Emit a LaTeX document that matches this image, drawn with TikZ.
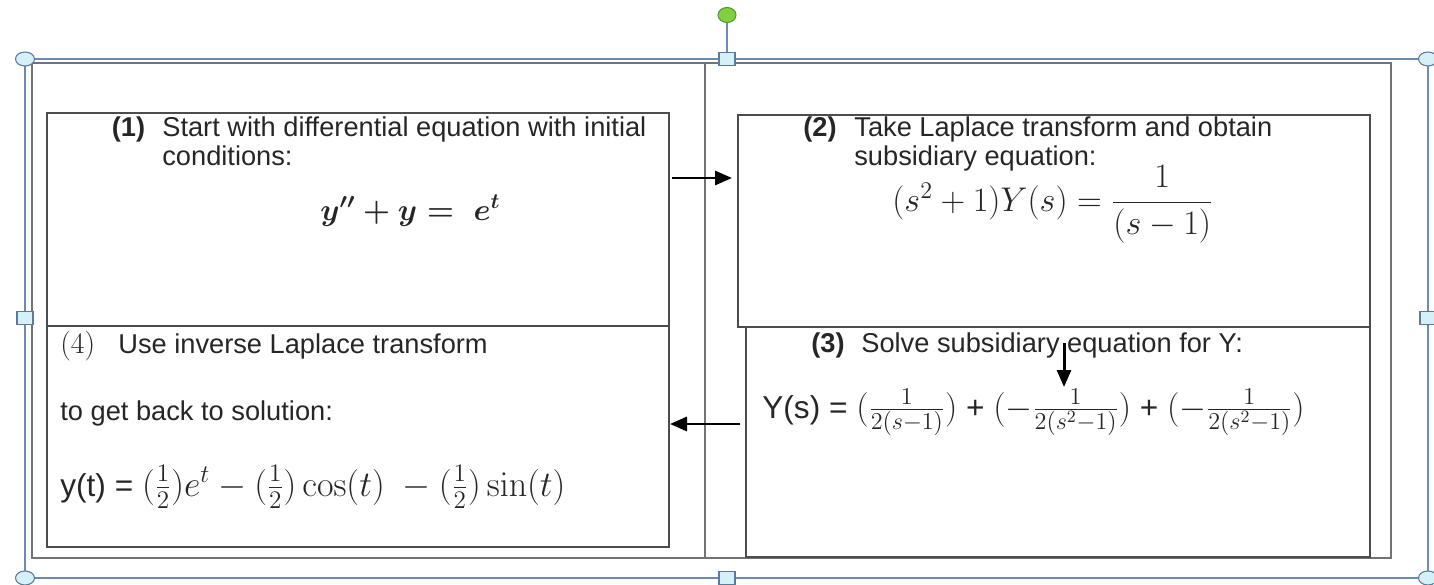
\RequirePackage{fix-cm}
\documentclass[tikz,border=0pt]{standalone}
\usepackage[no-math]{fontspec}
\setmainfont{Liberation Sans}
\usetikzlibrary{arrows.meta,shapes.geometric}
\definecolor{selblue}{RGB}{107,140,178}
\definecolor{handlefill}{RGB}{214,240,247}
\definecolor{handleedge}{RGB}{92,122,156}
\definecolor{rotgreen}{RGB}{128,208,64}
\definecolor{rotedge}{RGB}{86,150,52}
\newcommand{\bigmath}[2]{{\fontsize{#1}{24}\selectfont$#2$}}
\tikzset{
  selline/.style={draw=selblue, line width=1.1pt},
  frameline/.style={draw=black!55, line width=1.1pt},
  stepbox/.style={draw=black!70, line width=1.1pt, inner sep=0pt, outer sep=0pt},
  cornerhandle/.style={ellipse, draw=handleedge, fill=handlefill, line width=0.6pt, minimum width=0.38cm, minimum height=0.28cm, inner sep=0pt},
  sidehandle/.style={rectangle, draw=handleedge, fill=handlefill, line width=0.6pt, minimum width=0.32cm, minimum height=0.25cm, inner sep=0pt},
  rothandle/.style={ellipse, draw=rotedge, fill=rotgreen, line width=0.6pt, minimum width=0.36cm, minimum height=0.30cm, inner sep=0pt},
  steptext/.style={anchor=base west, inner sep=0pt, text=black!85, font=\fontsize{15.5}{18}\selectfont},
  stepnum/.style={steptext, font=\fontsize{15.5}{18}\selectfont\bfseries},
  eqtext/.style={anchor=base west, inner sep=0pt, text=black!85, font=\fontsize{18}{22}\selectfont},
  eqbold/.style={eqtext, font=\fontsize{17.5}{22}\selectfont\mathversion{bold}},
  flow/.style={-{Triangle[length=0.34cm,width=0.28cm]}, line width=1.7pt, draw=black},
}

\begin{document}
\begin{tikzpicture}
\useasboundingbox (0,0) rectangle (28.68,11.68);
\draw[frameline] (0.64,0.52) rectangle (27.82,10.42);
\draw[frameline, line width=0.8pt] (14.10,0.52) -- (14.10,10.42);
\node[stepbox, minimum width=12.44cm, minimum height=4.26cm] (box1) at (7.16,7.29) {};
\node[stepbox, minimum width=12.64cm, minimum height=4.24cm] (box2) at (21.08,7.26) {};
\node[stepbox, minimum width=12.48cm, minimum height=4.60cm] (box3) at (21.16,2.84) {};
\node[stepbox, minimum width=12.44cm, minimum height=4.42cm] (box4) at (7.16,2.95) {};
\node[stepnum] (n1) at (2.23,8.94) {(1)};
\node[steptext] (t1a) at (3.24,8.94) {Start with differential equation with initial};
\node[steptext] (t1b) at (3.24,8.38) {conditions:};
\node[eqbold] (eq1) at (6.40,7.28) {$y^{\prime\prime}+y=\;e^{t}$};
\node[stepnum] (n2) at (16.06,8.94) {(2)};
\node[steptext] (t2a) at (17.08,8.94) {Take Laplace transform and obtain};
\node[steptext] (t2b) at (17.08,8.38) {subsidiary equation:};
\node[eqtext] (eq2) at (17.84,7.46) {\bigmath{19.5}{(s^2+1)Y(s)=\displaystyle\frac{1}{(s-1)}}};
\node[stepnum] (n3) at (16.22,4.64) {(3)};
\node[steptext] (t3a) at (17.22,4.64) {Solve subsidiary equation for Y:};
\node[eqtext] (eq3) at (15.24,3.32) {Y(s) = \bigmath{19.7}{(\frac{1}{2(s-1)})} + \bigmath{19.7}{(-\frac{1}{2(s^2-1)})} + \bigmath{19.7}{(-\frac{1}{2(s^2-1)})}};
\node[steptext, font=\fontsize{17}{20}\selectfont] (n4) at (1.20,4.62) {$(4)$};
\node[steptext] (t4a) at (2.36,4.62) {Use inverse Laplace transform};
\node[steptext] (t4b) at (1.20,3.28) {to get back to solution:};
\node[eqtext] (eq4) at (1.20,1.76) {y(t) = \bigmath{20.5}{(\frac{1}{2})e^{t}-(\frac{1}{2})\cos(t)\;-(\frac{1}{2})\sin(t)}};
\coordinate (r1) at (13.44,8.12);
\coordinate (r2) at (14.64,8.12);
\coordinate (l1) at (14.80,3.20);
\coordinate (l2) at (13.40,3.20);
\coordinate (d1) at (21.28,4.82);
\coordinate (d2) at (21.28,3.94);
\draw[flow] (r1) -- (r2);
\draw[flow] (l1) -- (l2);
\draw[flow] (d1) -- (d2);
\draw[selline] (0.50,0.12) rectangle (28.56,10.50);
\node[rothandle] (rot) at (14.54,11.38) {};
\node[sidehandle] (hdt) at (14.54,10.50) {};
\draw[selline] (rot) -- (hdt);
\node[sidehandle] (hdb) at (14.54,0.12) {};
\node[sidehandle] (hdl) at (0.50,5.32) {};
\node[sidehandle] (hdr) at (28.56,5.32) {};
\node[cornerhandle] (cnw) at (0.50,10.50) {};
\node[cornerhandle] (cne) at (28.56,10.50) {};
\node[cornerhandle] (csw) at (0.50,0.12) {};
\node[cornerhandle] (cse) at (28.56,0.12) {};
\end{tikzpicture}
\end{document}
